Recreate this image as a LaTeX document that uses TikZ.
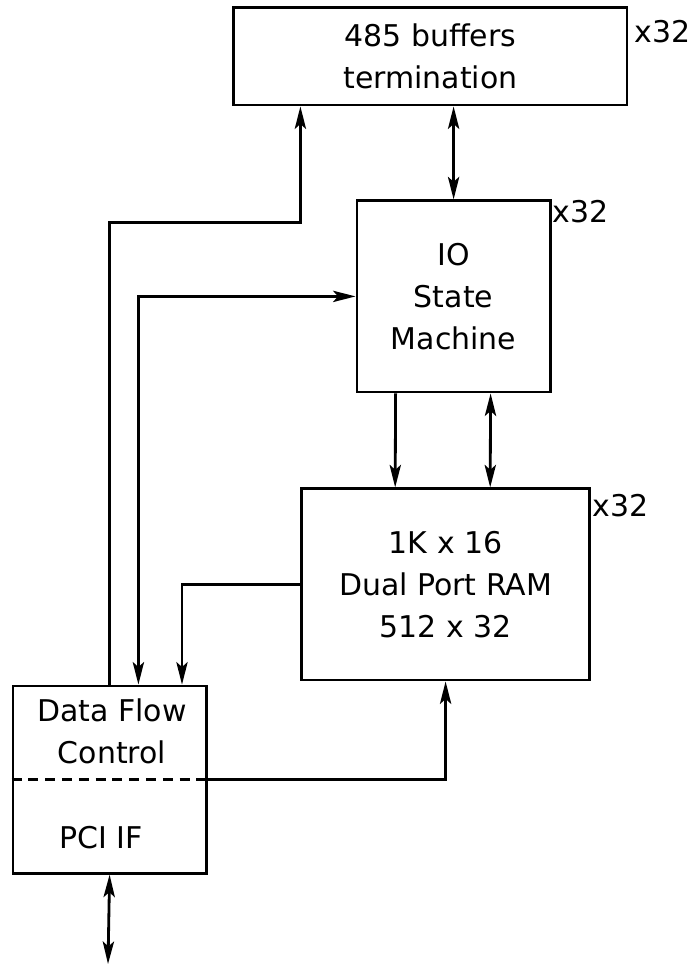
\documentclass[tikz,border=0pt]{standalone}
\usepackage{fontspec}
\setmainfont{DejaVu Sans}
\usepackage{tikz}
\usetikzlibrary{arrows.meta, positioning, calc}
\tikzset{
  block/.style  = {rectangle, draw, line width=2pt, align=center, inner sep=0pt,
                   font=\fontsize{21.3}{29.8}\selectfont},
  txt/.style    = {inner sep=0pt, align=center, font=\fontsize{21.3}{29.8}\selectfont},
  arrow/.style  = {line width=2pt, -{Stealth[length=16pt, width=8pt, inset=3.5pt]}},
  darrow/.style = {line width=2pt, {Stealth[length=16pt, width=8pt, inset=3.5pt]}-{Stealth[length=16pt, width=8pt, inset=3.5pt]}},
  wire/.style   = {line width=2pt},
}

\begin{document}
\begin{tikzpicture}
    \useasboundingbox (0,0) rectangle (17.35,-24.125);

    %% ===================== BLOCKS =====================
    \node[block, minimum width=9.83cm, minimum height=2.43cm] (buf)  at (10.76, -1.41)
         {485 buffers\\termination};
    \node[block, minimum width=4.83cm, minimum height=4.78cm] (ioSM) at (11.34, -7.41)
         {IO\\State\\Machine};
    \node[block, minimum width=7.2cm,  minimum height=4.78cm] (ram)  at (11.14, -14.61)
         {1K x 16\\Dual Port RAM\\512 x 32};
    \node[block, minimum width=4.83cm, minimum height=4.68cm] (dfc)  at (2.74, -19.49) {};

    \node[txt] (dfcText) at (2.8, -18.29)   {Data Flow\\Control};
    \node[txt, anchor=base] (pciText) at (2.525, -21.2) {PCI IF};
    \draw[wire, dash pattern=on 0.25cm off 0.17cm] (dfc.west) -- (dfc.east);

    %% x32 labels
    \node[txt, anchor=base west] (x32buf) at (15.85, -1.05)  {x32};
    \node[txt, anchor=base west] (x32io)  at (13.8, -5.55)   {x32};
    \node[txt, anchor=base west] (x32ram) at (14.8, -12.9)   {x32};

    \coordinate (pciEnd) at (2.7, -24.1);

    %% ===================== CONNECTORS =====================
    \draw[darrow] (ioSM.north) -- (ioSM.north |- buf.south);
    \draw[arrow]  (dfc.north) -- ++(0, 11.55) -| ($(buf.south west)+(1.7,0)$);
    \draw[darrow] ($(dfc.north)+(0.72,0)$) |- (ioSM.west);
    \draw[arrow]  ($(ioSM.south west)+(1.0,0)$) -- ($(ram.north west)+(2.375,0)$);
    \draw[darrow] ($(ioSM.south west)+(3.375,0)$) -- ($(ram.north west)+(4.75,0)$);
    \draw[arrow]  (ram.west) -| ($(dfc.north)+(1.81,0)$);
    \draw[arrow]  (dfc.east) -| (ram.south);
    \draw[darrow] (dfc.south) -- (pciEnd);

\end{tikzpicture}
\end{document}
